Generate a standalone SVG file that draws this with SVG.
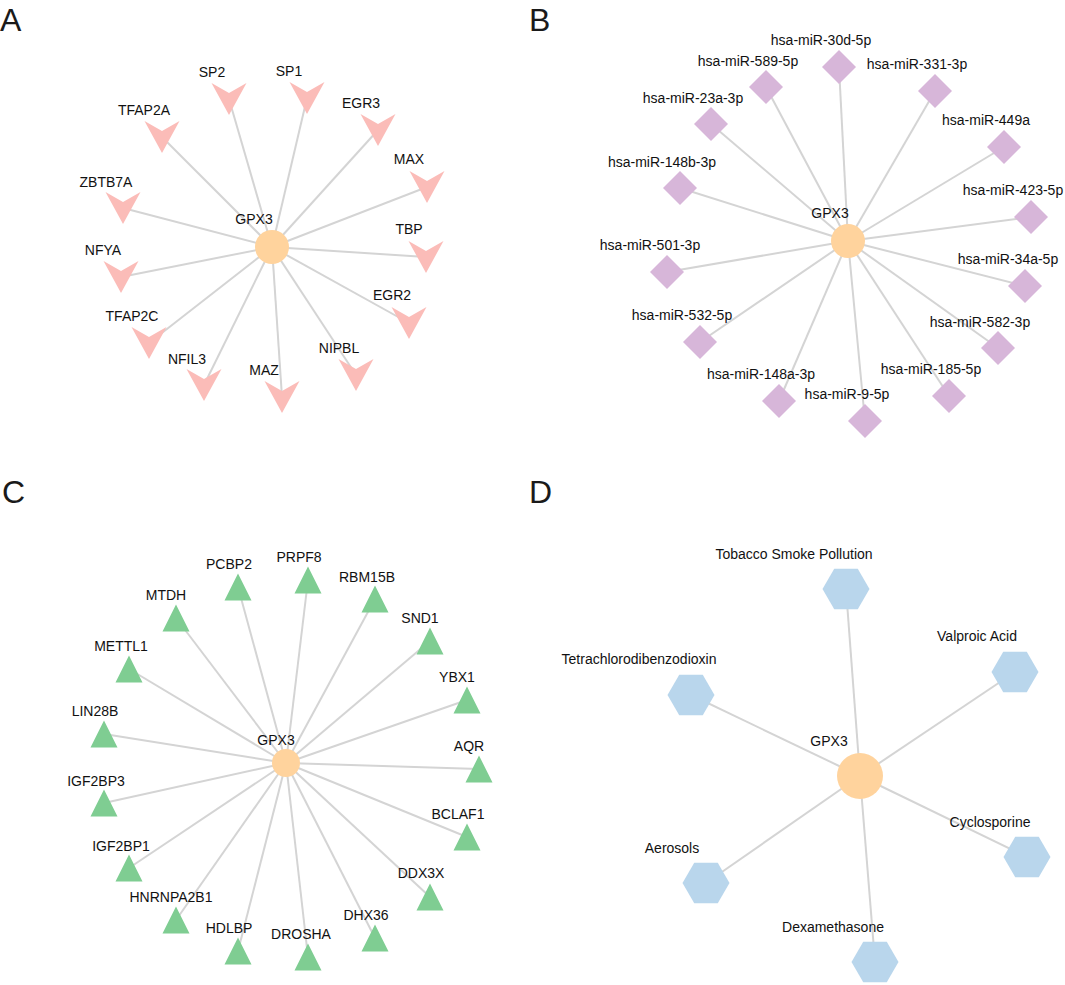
<svg xmlns="http://www.w3.org/2000/svg" xmlns:xlink="http://www.w3.org/1999/xlink" width="1065" height="985" viewBox="0 0 1065 985">
<style>
text{font-family:"Liberation Sans",Arial,sans-serif;font-size:14px;fill:#111;text-anchor:middle}
.panel{font-size:32px;text-anchor:start;fill:#1a1a1a}
.edges line{stroke:#d4d4d4;stroke-width:2}
.hub{fill:#ffd39d}
.tf{fill:#fbbcb8}
.mir{fill:#d7b6d9}
.rbp{fill:#7fcd92}
.chem{fill:#b9d6ec}
</style>
<defs>
<path id="chev" d="M-17.5,-16 L0,-6 L17.5,-16 L0,16 Z"/>
<path id="dia" d="M0,-17 L17,0 L0,17 L-17,0 Z"/>
<path id="tri" d="M0,-13.5 L13.5,13.5 L-13.5,13.5 Z"/>
<path id="hex" d="M-23.5,0 L-11.75,-20.35 L11.75,-20.35 L23.5,0 L11.75,20.35 L-11.75,20.35 Z"/>
</defs>
<rect width="1065" height="985" fill="#fff"/>

<text class="panel" x="0" y="31">A</text>
<text class="panel" x="529" y="31">B</text>
<text class="panel" x="2" y="503">C</text>
<text class="panel" x="529" y="503">D</text>

<g id="edges" class="edges">
<g id="edgesA">
<line x1="272" y1="247" x2="229" y2="99"/>
<line x1="272" y1="247" x2="307" y2="98"/>
<line x1="272" y1="247" x2="378" y2="130"/>
<line x1="272" y1="247" x2="427" y2="187"/>
<line x1="272" y1="247" x2="426" y2="257"/>
<line x1="272" y1="247" x2="409" y2="323"/>
<line x1="272" y1="247" x2="356" y2="375"/>
<line x1="272" y1="247" x2="282" y2="397"/>
<line x1="272" y1="247" x2="204" y2="385"/>
<line x1="272" y1="247" x2="149" y2="343"/>
<line x1="272" y1="247" x2="121" y2="277"/>
<line x1="272" y1="247" x2="123" y2="208"/>
<line x1="272" y1="247" x2="162" y2="137"/>
</g>
<g id="edgesB">
<line x1="848" y1="241" x2="839" y2="67"/>
<line x1="848" y1="241" x2="766" y2="87"/>
<line x1="848" y1="241" x2="935" y2="91"/>
<line x1="848" y1="241" x2="711" y2="124"/>
<line x1="848" y1="241" x2="1004" y2="147"/>
<line x1="848" y1="241" x2="680" y2="188"/>
<line x1="848" y1="241" x2="1031" y2="217"/>
<line x1="848" y1="241" x2="667" y2="272"/>
<line x1="848" y1="241" x2="1025" y2="286"/>
<line x1="848" y1="241" x2="700" y2="342"/>
<line x1="848" y1="241" x2="998" y2="348"/>
<line x1="848" y1="241" x2="779" y2="401"/>
<line x1="848" y1="241" x2="949" y2="396"/>
<line x1="848" y1="241" x2="865" y2="421"/>
</g>
<g id="edgesC">
<line x1="286" y1="763" x2="238" y2="587"/>
<line x1="286" y1="763" x2="308" y2="580"/>
<line x1="286" y1="763" x2="375" y2="599"/>
<line x1="286" y1="763" x2="176" y2="618"/>
<line x1="286" y1="763" x2="430" y2="641"/>
<line x1="286" y1="763" x2="129" y2="669"/>
<line x1="286" y1="763" x2="467" y2="700"/>
<line x1="286" y1="763" x2="104" y2="734"/>
<line x1="286" y1="763" x2="479" y2="769"/>
<line x1="286" y1="763" x2="104" y2="803"/>
<line x1="286" y1="763" x2="467" y2="837"/>
<line x1="286" y1="763" x2="129" y2="868"/>
<line x1="286" y1="763" x2="430" y2="897"/>
<line x1="286" y1="763" x2="176" y2="920"/>
<line x1="286" y1="763" x2="375" y2="938"/>
<line x1="286" y1="763" x2="238" y2="951"/>
<line x1="286" y1="763" x2="308" y2="957"/>
</g>
<g id="edgesD">
<line x1="860" y1="776" x2="846" y2="589"/>
<line x1="860" y1="776" x2="1015" y2="672"/>
<line x1="860" y1="776" x2="691" y2="695"/>
<line x1="860" y1="776" x2="1027" y2="857"/>
<line x1="860" y1="776" x2="706" y2="883"/>
<line x1="860" y1="776" x2="875" y2="962"/>
</g>
</g>

<!-- Panel A -->
<g id="A-GPX3"><circle class="hub" cx="272" cy="247" r="17"/><text x="254" y="224">GPX3</text></g>
<g id="A-SP2"><use href="#chev" class="tf" x="229" y="99"/><text x="212" y="77">SP2</text></g>
<g id="A-SP1"><use href="#chev" class="tf" x="307" y="98"/><text x="289" y="76">SP1</text></g>
<g id="A-EGR3"><use href="#chev" class="tf" x="378" y="130"/><text x="361" y="108">EGR3</text></g>
<g id="A-MAX"><use href="#chev" class="tf" x="427" y="187"/><text x="409" y="164">MAX</text></g>
<g id="A-TBP"><use href="#chev" class="tf" x="426" y="257"/><text x="409" y="234">TBP</text></g>
<g id="A-EGR2"><use href="#chev" class="tf" x="409" y="323"/><text x="392" y="300">EGR2</text></g>
<g id="A-NIPBL"><use href="#chev" class="tf" x="356" y="375"/><text x="339" y="353">NIPBL</text></g>
<g id="A-MAZ"><use href="#chev" class="tf" x="282" y="397"/><text x="264" y="375">MAZ</text></g>
<g id="A-NFIL3"><use href="#chev" class="tf" x="204" y="385"/><text x="187" y="364">NFIL3</text></g>
<g id="A-TFAP2C"><use href="#chev" class="tf" x="149" y="343"/><text x="132" y="321">TFAP2C</text></g>
<g id="A-NFYA"><use href="#chev" class="tf" x="121" y="277"/><text x="103" y="255">NFYA</text></g>
<g id="A-ZBTB7A"><use href="#chev" class="tf" x="123" y="208"/><text x="106" y="187">ZBTB7A</text></g>
<g id="A-TFAP2A"><use href="#chev" class="tf" x="162" y="137"/><text x="144" y="115">TFAP2A</text></g>

<!-- Panel B -->
<g id="B-GPX3"><circle class="hub" cx="848" cy="241" r="17"/><text x="830" y="218">GPX3</text></g>
<g id="B-miR-30d-5p"><use href="#dia" class="mir" x="839" y="67"/><text x="821" y="45">hsa-miR-30d-5p</text></g>
<g id="B-miR-589-5p"><use href="#dia" class="mir" x="766" y="87"/><text x="748" y="66">hsa-miR-589-5p</text></g>
<g id="B-miR-331-3p"><use href="#dia" class="mir" x="935" y="91"/><text x="917" y="69">hsa-miR-331-3p</text></g>
<g id="B-miR-23a-3p"><use href="#dia" class="mir" x="711" y="124"/><text x="693" y="103">hsa-miR-23a-3p</text></g>
<g id="B-miR-449a"><use href="#dia" class="mir" x="1004" y="147"/><text x="986" y="125">hsa-miR-449a</text></g>
<g id="B-miR-148b-3p"><use href="#dia" class="mir" x="680" y="188"/><text x="662" y="167">hsa-miR-148b-3p</text></g>
<g id="B-miR-423-5p"><use href="#dia" class="mir" x="1031" y="217"/><text x="1013" y="195">hsa-miR-423-5p</text></g>
<g id="B-miR-501-3p"><use href="#dia" class="mir" x="667" y="272"/><text x="650" y="250">hsa-miR-501-3p</text></g>
<g id="B-miR-34a-5p"><use href="#dia" class="mir" x="1025" y="286"/><text x="1008" y="264">hsa-miR-34a-5p</text></g>
<g id="B-miR-532-5p"><use href="#dia" class="mir" x="700" y="342"/><text x="682" y="320">hsa-miR-532-5p</text></g>
<g id="B-miR-582-3p"><use href="#dia" class="mir" x="998" y="348"/><text x="980" y="327">hsa-miR-582-3p</text></g>
<g id="B-miR-148a-3p"><use href="#dia" class="mir" x="779" y="401"/><text x="761" y="379">hsa-miR-148a-3p</text></g>
<g id="B-miR-185-5p"><use href="#dia" class="mir" x="949" y="396"/><text x="931" y="374">hsa-miR-185-5p</text></g>
<g id="B-miR-9-5p"><use href="#dia" class="mir" x="865" y="421"/><text x="847" y="399">hsa-miR-9-5p</text></g>

<!-- Panel C -->
<g id="C-GPX3"><circle class="hub" cx="286" cy="763" r="14"/><text x="276" y="745">GPX3</text></g>
<g id="C-PCBP2"><use href="#tri" class="rbp" x="238" y="587"/><text x="229" y="569">PCBP2</text></g>
<g id="C-PRPF8"><use href="#tri" class="rbp" x="308" y="580"/><text x="299" y="562">PRPF8</text></g>
<g id="C-RBM15B"><use href="#tri" class="rbp" x="375" y="599"/><text x="367" y="582">RBM15B</text></g>
<g id="C-MTDH"><use href="#tri" class="rbp" x="176" y="618"/><text x="166" y="600">MTDH</text></g>
<g id="C-SND1"><use href="#tri" class="rbp" x="430" y="641"/><text x="420" y="623">SND1</text></g>
<g id="C-METTL1"><use href="#tri" class="rbp" x="129" y="669"/><text x="121" y="651">METTL1</text></g>
<g id="C-YBX1"><use href="#tri" class="rbp" x="467" y="700"/><text x="457" y="682">YBX1</text></g>
<g id="C-LIN28B"><use href="#tri" class="rbp" x="104" y="734"/><text x="95" y="716">LIN28B</text></g>
<g id="C-AQR"><use href="#tri" class="rbp" x="479" y="769"/><text x="469" y="751">AQR</text></g>
<g id="C-IGF2BP3"><use href="#tri" class="rbp" x="104" y="803"/><text x="96" y="786">IGF2BP3</text></g>
<g id="C-BCLAF1"><use href="#tri" class="rbp" x="467" y="837"/><text x="458" y="819">BCLAF1</text></g>
<g id="C-IGF2BP1"><use href="#tri" class="rbp" x="129" y="868"/><text x="121" y="851">IGF2BP1</text></g>
<g id="C-DDX3X"><use href="#tri" class="rbp" x="430" y="897"/><text x="421" y="878">DDX3X</text></g>
<g id="C-HNRNPA2B1"><use href="#tri" class="rbp" x="176" y="920"/><text x="171" y="902">HNRNPA2B1</text></g>
<g id="C-DHX36"><use href="#tri" class="rbp" x="375" y="938"/><text x="366" y="920">DHX36</text></g>
<g id="C-HDLBP"><use href="#tri" class="rbp" x="238" y="951"/><text x="229" y="933">HDLBP</text></g>
<g id="C-DROSHA"><use href="#tri" class="rbp" x="308" y="957"/><text x="301" y="939">DROSHA</text></g>

<!-- Panel D -->
<g id="D-GPX3"><circle class="hub" cx="860" cy="776" r="23"/><text x="829" y="746">GPX3</text></g>
<g id="D-Tobacco"><use href="#hex" class="chem" x="846" y="589"/><text x="794" y="559">Tobacco Smoke Pollution</text></g>
<g id="D-Valproic"><use href="#hex" class="chem" x="1015" y="672"/><text x="977" y="641">Valproic Acid</text></g>
<g id="D-TCDD"><use href="#hex" class="chem" x="691" y="695"/><text x="639" y="664">Tetrachlorodibenzodioxin</text></g>
<g id="D-Cyclosporine"><use href="#hex" class="chem" x="1027" y="857"/><text x="990" y="827">Cyclosporine</text></g>
<g id="D-Aerosols"><use href="#hex" class="chem" x="706" y="883"/><text x="672" y="853">Aerosols</text></g>
<g id="D-Dexamethasone"><use href="#hex" class="chem" x="875" y="962"/><text x="833" y="932">Dexamethasone</text></g>
</svg>
